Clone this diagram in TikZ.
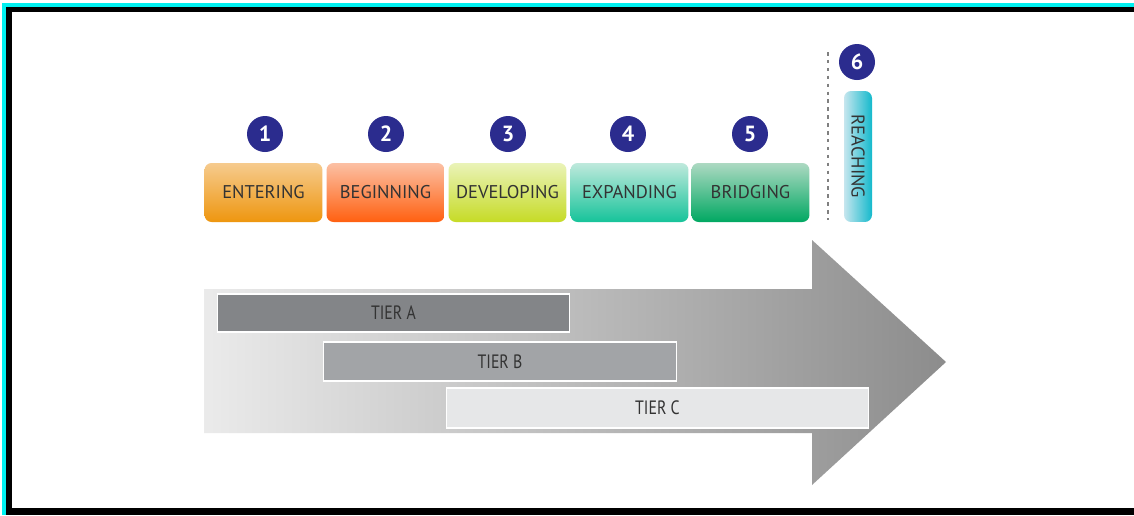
\documentclass[tikz,border=0pt]{standalone}
\usepackage{fontspec}
\setmainfont{PT Sans}
\newfontfamily\tierfont[FakeStretch=0.82]{PT Sans}

\definecolor{framecyan}{HTML}{00F0F0}
\definecolor{numblue}{HTML}{2B2C8E}
\definecolor{stagetext}{HTML}{333333}
\definecolor{tiertext}{HTML}{333333}
\definecolor{tierA}{HTML}{838588}
\definecolor{tierB}{HTML}{A2A4A7}
\definecolor{tierC}{HTML}{E6E7E8}
\definecolor{enterTop}{HTML}{F6CB8E}
\definecolor{enterBot}{HTML}{EE960F}
\definecolor{beginTop}{HTML}{FCC0A4}
\definecolor{beginBot}{HTML}{FF6010}
\definecolor{devTop}{HTML}{EAF3B8}
\definecolor{devBot}{HTML}{C6DB26}
\definecolor{expTop}{HTML}{BFE9DC}
\definecolor{expBot}{HTML}{16C39A}
\definecolor{bridgeTop}{HTML}{ADD9C2}
\definecolor{bridgeBot}{HTML}{00A862}
\definecolor{reachTop}{HTML}{C6E6EE}
\definecolor{reachBot}{HTML}{14B9CC}

\tikzset{
  stage/.style={rounded corners=4pt, minimum width=2.36cm, minimum height=1.18cm,
    inner sep=0pt, text=stagetext, font=\fontsize{10.5}{12}\selectfont},
  num/.style={circle, fill=numblue, minimum size=0.72cm, inner sep=0pt,
    text=white, font=\bfseries\fontsize{12.5}{14}\selectfont},
  tier/.style={draw=white, line width=0.6pt, inner sep=0pt,
    text=tiertext, font=\tierfont\fontsize{11}{12}\selectfont}
}

\begin{document}
\begin{tikzpicture}[x=0.02cm, y=-0.02cm]
%\draw[step=50,gray,very thin] (0,0) grid (1134,515); %grid lines
\useasboundingbox (0,0) rectangle (1134,515);

% frame
\fill[framecyan] (2,3) rectangle (1134,515);
\fill[black] (6,7) rectangle (1134,515);
\fill[white] (12,12) rectangle (1134,508);

% big arrow
\shade[left color=black!8, middle color=black!28, right color=black!45]
  (204,289) -- (812,289) -- (812,240) -- (946,362) -- (812,485) -- (812,433) -- (204,433) -- cycle;

% tiers
\node[tier, fill=tierA, minimum width=7.06cm, minimum height=0.76cm] (tierA) at (393.5,313) {TIER A};
\node[tier, fill=tierB, minimum width=7.08cm, minimum height=0.78cm] (tierB) at (500,361.5) {TIER B};
\node[tier, fill=tierC, minimum width=8.46cm, minimum height=0.80cm] (tierC) at (657.5,408) {TIER C};

% stages
\node[stage, top color=enterTop, bottom color=enterBot] (entering) at (263.5,192.5) {ENTERING};
\node[stage, top color=beginTop, bottom color=beginBot] (beginning) at (385.5,192.5) {BEGINNING};
\node[stage, top color=devTop, bottom color=devBot] (developing) at (507.5,192.5) {DEVELOPING};
\node[stage, top color=expTop, bottom color=expBot] (expanding) at (629.5,192.5) {EXPANDING};
\node[stage, top color=bridgeTop, bottom color=bridgeBot] (bridging) at (750.5,192.5) {BRIDGING};

\node[num] (n1) at (265,134) {1};
\node[num] (n2) at (386,134) {2};
\node[num] (n3) at (508,134) {3};
\node[num] (n4) at (628,134) {4};
\node[num] (n5) at (750,134) {5};

% reaching
\coordinate (sepT) at (828,52);
\coordinate (sepB) at (828,220);
\draw[gray, line width=1.2pt, dash pattern=on 2pt off 2.5pt] (sepT) -- (sepB);

\node[num] (n6) at (857,62) {6};
\node[stage, rotate=-90, minimum width=2.62cm, minimum height=0.56cm, rounded corners=4pt,
  left color=reachTop, right color=reachBot] (reaching) at (858,156.5) {REACHING};
\end{tikzpicture}
\end{document}
